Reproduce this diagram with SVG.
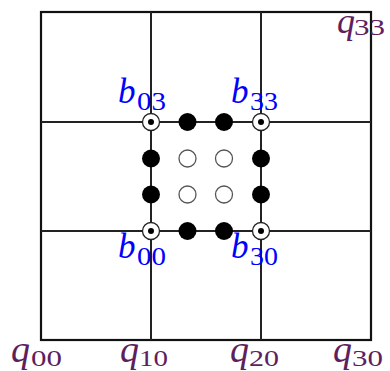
<svg xmlns="http://www.w3.org/2000/svg" width="390" height="371" viewBox="0 0 390 371">
<style>
.grid{stroke:#222;stroke-width:2;fill:none}
.frame{stroke:#111;stroke-width:2.2;fill:none}
.cp{fill:#000}
.open{fill:#fff;stroke:#555;stroke-width:1.3}
.corner{fill:#fff;stroke:#222;stroke-width:1.3}
.bl{font-family:"Liberation Serif",serif;fill:#0000ff}
.ql{font-family:"Liberation Serif",serif;fill:#5e1f5e}
.bm{font-style:italic;font-size:35px}
.bs{font-size:26px}
.qm{font-style:italic;font-size:38px}
.qs{font-size:23px}
</style>
<g id="connectors">
<rect class="frame" x="41" y="12" width="330" height="328"/>
<line class="grid" x1="151" y1="12" x2="151" y2="340"/>
<line class="grid" x1="261" y1="12" x2="261" y2="340"/>
<line class="grid" x1="41" y1="122" x2="371" y2="122"/>
<line class="grid" x1="41" y1="231" x2="371" y2="231"/>
</g>
<g id="inner">
<circle class="open" cx="187.5" cy="158.5" r="8.5"/>
<circle class="open" cx="224" cy="158.5" r="8.5"/>
<circle class="open" cx="187.5" cy="194.5" r="8.5"/>
<circle class="open" cx="224" cy="194.5" r="8.5"/>
</g>
<g id="edge-points">
<circle class="cp" cx="187.5" cy="122" r="9"/>
<circle class="cp" cx="224" cy="122" r="9"/>
<circle class="cp" cx="187.5" cy="231" r="9"/>
<circle class="cp" cx="224" cy="231" r="9"/>
<circle class="cp" cx="151" cy="158.5" r="9"/>
<circle class="cp" cx="151" cy="194.5" r="9"/>
<circle class="cp" cx="261" cy="158.5" r="9"/>
<circle class="cp" cx="261" cy="194.5" r="9"/>
</g>
<g id="b00"><circle class="corner" cx="151" cy="231" r="8.5"/><circle class="cp" cx="151" cy="231" r="3"/>
<text class="bl bm" x="118" y="258">b</text><text class="bl bs" x="137" y="265" textLength="29" lengthAdjust="spacingAndGlyphs">00</text></g>
<g id="b30"><circle class="corner" cx="261" cy="231" r="8.5"/><circle class="cp" cx="261" cy="231" r="3"/>
<text class="bl bm" x="231" y="258">b</text><text class="bl bs" x="250" y="265" textLength="28" lengthAdjust="spacingAndGlyphs">30</text></g>
<g id="b03"><circle class="corner" cx="151" cy="122" r="8.5"/><circle class="cp" cx="151" cy="122" r="3"/>
<text class="bl bm" x="118" y="103">b</text><text class="bl bs" x="137" y="110" textLength="29" lengthAdjust="spacingAndGlyphs">03</text></g>
<g id="b33"><circle class="corner" cx="261" cy="122" r="8.5"/><circle class="cp" cx="261" cy="122" r="3"/>
<text class="bl bm" x="231" y="103">b</text><text class="bl bs" x="250" y="110" textLength="28" lengthAdjust="spacingAndGlyphs">33</text></g>
<g id="q00"><text class="ql qm" x="11" y="362">q</text><text class="ql qs" x="31" y="366" textLength="31" lengthAdjust="spacingAndGlyphs">00</text></g>
<g id="q10"><text class="ql qm" x="120" y="362">q</text><text class="ql qs" x="139" y="366" textLength="29" lengthAdjust="spacingAndGlyphs">10</text></g>
<g id="q20"><text class="ql qm" x="230" y="362">q</text><text class="ql qs" x="249" y="366" textLength="30" lengthAdjust="spacingAndGlyphs">20</text></g>
<g id="q30"><text class="ql qm" x="333" y="362">q</text><text class="ql qs" x="352" y="366" textLength="31" lengthAdjust="spacingAndGlyphs">30</text></g>
<g id="q33"><text class="ql" x="337" y="32.5" font-style="italic" font-size="36">q</text><text class="ql qs" x="354" y="35" textLength="31" lengthAdjust="spacingAndGlyphs">33</text></g>
</svg>
